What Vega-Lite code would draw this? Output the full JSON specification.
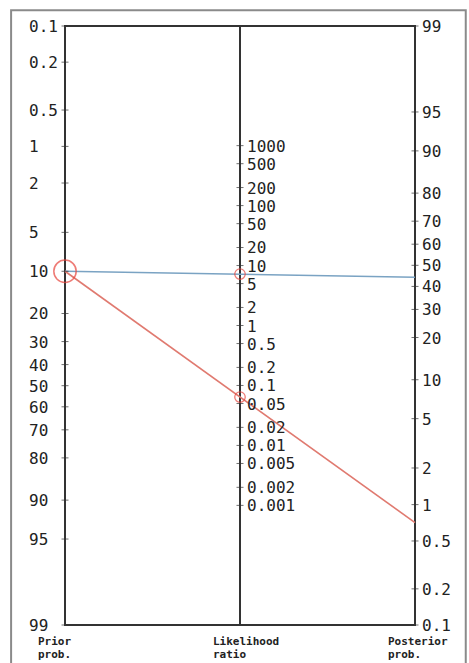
{
  "$schema": "https://vega.github.io/schema/vega-lite/v6.json",
  "width": 350,
  "height": 599,
  "autosize": {"type": "none"},
  "padding": {"left": 65, "top": 26, "right": 54, "bottom": 38},
  "background": "white",
  "config": {
    "view": {"stroke": "#333333", "strokeWidth": 2},
    "text": {"font": "DejaVu Sans Mono", "fontSize": 16, "color": "#222222"}
  },
  "data": {
    "values": [
      {"kind": "tick", "axis": "prior", "v": 0.1, "label": "0.1"},
      {"kind": "tick", "axis": "prior", "v": 0.2, "label": "0.2"},
      {"kind": "tick", "axis": "prior", "v": 0.5, "label": "0.5"},
      {"kind": "tick", "axis": "prior", "v": 1, "label": "1"},
      {"kind": "tick", "axis": "prior", "v": 2, "label": "2"},
      {"kind": "tick", "axis": "prior", "v": 5, "label": "5"},
      {"kind": "tick", "axis": "prior", "v": 10, "label": "10"},
      {"kind": "tick", "axis": "prior", "v": 20, "label": "20"},
      {"kind": "tick", "axis": "prior", "v": 30, "label": "30"},
      {"kind": "tick", "axis": "prior", "v": 40, "label": "40"},
      {"kind": "tick", "axis": "prior", "v": 50, "label": "50"},
      {"kind": "tick", "axis": "prior", "v": 60, "label": "60"},
      {"kind": "tick", "axis": "prior", "v": 70, "label": "70"},
      {"kind": "tick", "axis": "prior", "v": 80, "label": "80"},
      {"kind": "tick", "axis": "prior", "v": 90, "label": "90"},
      {"kind": "tick", "axis": "prior", "v": 95, "label": "95"},
      {"kind": "tick", "axis": "prior", "v": 99, "label": "99"},
      {"kind": "tick", "axis": "lr", "v": 1000, "label": "1000"},
      {"kind": "tick", "axis": "lr", "v": 500, "label": "500"},
      {"kind": "tick", "axis": "lr", "v": 200, "label": "200"},
      {"kind": "tick", "axis": "lr", "v": 100, "label": "100"},
      {"kind": "tick", "axis": "lr", "v": 50, "label": "50"},
      {"kind": "tick", "axis": "lr", "v": 20, "label": "20"},
      {"kind": "tick", "axis": "lr", "v": 10, "label": "10"},
      {"kind": "tick", "axis": "lr", "v": 5, "label": "5"},
      {"kind": "tick", "axis": "lr", "v": 2, "label": "2"},
      {"kind": "tick", "axis": "lr", "v": 1, "label": "1"},
      {"kind": "tick", "axis": "lr", "v": 0.5, "label": "0.5"},
      {"kind": "tick", "axis": "lr", "v": 0.2, "label": "0.2"},
      {"kind": "tick", "axis": "lr", "v": 0.1, "label": "0.1"},
      {"kind": "tick", "axis": "lr", "v": 0.05, "label": "0.05"},
      {"kind": "tick", "axis": "lr", "v": 0.02, "label": "0.02"},
      {"kind": "tick", "axis": "lr", "v": 0.01, "label": "0.01"},
      {"kind": "tick", "axis": "lr", "v": 0.005, "label": "0.005"},
      {"kind": "tick", "axis": "lr", "v": 0.002, "label": "0.002"},
      {"kind": "tick", "axis": "lr", "v": 0.001, "label": "0.001"},
      {"kind": "tick", "axis": "post", "v": 99, "label": "99"},
      {"kind": "tick", "axis": "post", "v": 95, "label": "95"},
      {"kind": "tick", "axis": "post", "v": 90, "label": "90"},
      {"kind": "tick", "axis": "post", "v": 80, "label": "80"},
      {"kind": "tick", "axis": "post", "v": 70, "label": "70"},
      {"kind": "tick", "axis": "post", "v": 60, "label": "60"},
      {"kind": "tick", "axis": "post", "v": 50, "label": "50"},
      {"kind": "tick", "axis": "post", "v": 40, "label": "40"},
      {"kind": "tick", "axis": "post", "v": 30, "label": "30"},
      {"kind": "tick", "axis": "post", "v": 20, "label": "20"},
      {"kind": "tick", "axis": "post", "v": 10, "label": "10"},
      {"kind": "tick", "axis": "post", "v": 5, "label": "5"},
      {"kind": "tick", "axis": "post", "v": 2, "label": "2"},
      {"kind": "tick", "axis": "post", "v": 1, "label": "1"},
      {"kind": "tick", "axis": "post", "v": 0.5, "label": "0.5"},
      {"kind": "tick", "axis": "post", "v": 0.2, "label": "0.2"},
      {"kind": "tick", "axis": "post", "v": 0.1, "label": "0.1"},
      {"kind": "line", "series": "A", "axis": "prior", "v": 10},
      {"kind": "line", "series": "A", "axis": "post", "v": 44.3},
      {"kind": "line", "series": "B", "axis": "prior", "v": 10},
      {"kind": "line", "series": "B", "axis": "post", "v": 0.71},
      {"kind": "circle", "axis": "prior", "v": 10},
      {"kind": "circle", "axis": "lr", "v": 7.2},
      {"kind": "circle", "axis": "lr", "v": 0.064},
      {"kind": "title", "axis": "prior", "label": "Prior\nprob."},
      {"kind": "title", "axis": "lr", "label": "Likelihood\nratio"},
      {"kind": "title", "axis": "post", "label": "Posterior\nprob."}
    ]
  },
  "transform": [
    {"calculate": "datum.axis === 'prior' ? 0 : (datum.axis === 'lr' ? 0.5 : 1)", "as": "xpos"},
    {"calculate": "datum.kind === 'title' ? 4.5951 : (datum.axis === 'prior' ? log(datum.v / (100 - datum.v)) : (datum.axis === 'post' ? -2.3117 - log(datum.v / (100 - datum.v)) : (-2.3117 - log(datum.v)) / 2))", "as": "pos"}
  ],
  "encoding": {
    "x": {"field": "xpos", "type": "quantitative", "scale": {"domain": [0, 1], "nice": false, "zero": false}, "axis": null},
    "y": {"field": "pos", "type": "quantitative", "scale": {"domain": [-6.9068, 4.5951], "nice": false, "zero": false, "reverse": true}, "axis": null}
  },
  "layer": [
    {
      "mark": {"type": "rect", "fill": null, "stroke": "#8a8a8a", "strokeWidth": 2},
      "encoding": {
        "x": {"datum": -0.154},
        "x2": {"datum": 1.145},
        "y": {"datum": -7.21},
        "y2": {"datum": 5.5}
      },
      "transform": [{"filter": "datum.kind === 'title' && datum.axis === 'prior'"}]
    },
    {
      "mark": {"type": "rule", "stroke": "#333333", "strokeWidth": 2},
      "encoding": {
        "x": {"datum": 0.5},
        "y": {"datum": -6.9068},
        "y2": {"datum": 4.5951}
      },
      "transform": [{"filter": "datum.kind === 'title' && datum.axis === 'lr'"}]
    },
    {
      "transform": [{"filter": "datum.kind === 'line'"}],
      "mark": {"type": "line", "strokeWidth": 1.6},
      "encoding": {
        "color": {"field": "series", "type": "nominal", "scale": {"domain": ["A", "B"], "range": ["#7aa3c3", "#e07a70"]}, "legend": null},
        "order": {"field": "xpos", "type": "quantitative"}
      }
    },
    {
      "transform": [{"filter": "datum.kind === 'tick'"}],
      "mark": {"type": "tick", "orient": "horizontal", "size": 7, "thickness": 1, "color": "#333333"}
    },
    {
      "transform": [{"filter": "datum.kind === 'tick' && datum.axis === 'prior'"}],
      "mark": {"type": "text", "align": "left", "baseline": "middle", "dx": -36, "dy": 1},
      "encoding": {"text": {"field": "label"}}
    },
    {
      "transform": [{"filter": "datum.kind === 'tick' && datum.axis !== 'prior'"}],
      "mark": {"type": "text", "align": "left", "baseline": "middle", "dx": 7, "dy": 1},
      "encoding": {"text": {"field": "label"}}
    },
    {
      "transform": [{"filter": "datum.kind === 'circle' && datum.axis === 'prior'"}],
      "mark": {"type": "point", "shape": "circle", "filled": false, "size": 500, "stroke": "#e8443c", "strokeWidth": 1.5}
    },
    {
      "transform": [{"filter": "datum.kind === 'circle' && datum.axis === 'lr'"}],
      "mark": {"type": "point", "shape": "circle", "filled": false, "size": 110, "stroke": "#e8443c", "strokeWidth": 1.3}
    },
    {
      "transform": [{"filter": "datum.kind === 'title'"}],
      "mark": {"type": "text", "align": "left", "baseline": "top", "dx": -27, "dy": 11, "fontSize": 11, "fontWeight": "bold", "lineBreak": "\n", "lineHeight": 13},
      "encoding": {"text": {"field": "label"}}
    }
  ]
}
